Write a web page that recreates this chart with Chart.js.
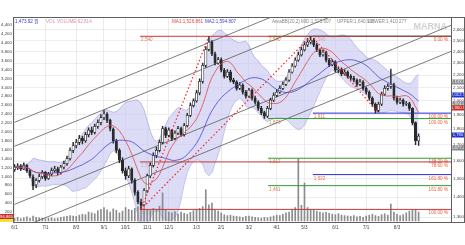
<!DOCTYPE html>
<html>
<head>
<meta charset="utf-8">
<script src="https://cdn.jsdelivr.net/npm/chart.js@4.4.1/dist/chart.umd.min.js"></script>
<style>
html, body { margin: 0; padding: 0; background: #fff; }
</style>
</head>
<body>
<canvas id="stockChart" width="465" height="245"></canvas>
<script>
// candles, one bar ~ 2 trading days
const opens = [1550,1560,1570,1555,1575,1545,1510,1465,1490,1510,
  1535,1500,1525,1545,1555,1535,1565,1585,1615,1665,
  1695,1715,1740,1725,1765,1795,1780,1820,1845,1880,
  1905,1860,1800,1725,1665,1605,1545,1515,1555,1490,
  1425,1375,1360,1435,1515,1575,1635,1665,1715,1805,
  1760,1795,1740,1775,1805,1765,1825,1895,1965,2000,
  2060,2150,2280,2420,2485,2380,2300,2330,2240,2190,
  2225,2160,2145,2095,2120,2065,2035,2080,2020,1990,
  1945,1915,1890,1945,2005,2040,2065,2095,2125,2160,
  2225,2275,2325,2370,2415,2460,2485,2505,2460,2415,
  2370,2395,2325,2285,2310,2240,2245,2210,2225,2190,
  2175,2160,2125,2145,2095,2065,2020,1975,1930,1975,
  2050,2095,2110,2125,2020,1990,2005,1975,1980,1945,
  1845,1725];
const highs = [1580,1585,1580,1590,1580,1550,1520,1500,1525,1545,
  1540,1535,1560,1570,1565,1575,1600,1630,1680,1715,
  1735,1760,1755,1780,1810,1815,1835,1865,1900,1930,
  1915,1870,1810,1735,1675,1620,1560,1570,1560,1500,
  1435,1390,1445,1525,1590,1650,1685,1730,1820,1815,
  1810,1800,1790,1820,1815,1840,1910,1985,2015,2080,
  2170,2300,2445,2540,2500,2395,2350,2345,2255,2245,
  2240,2175,2155,2140,2130,2080,2095,2090,2035,2000,
  1960,1925,1960,2020,2060,2085,2115,2145,2180,2245,
  2295,2345,2395,2440,2490,2520,2540,2520,2475,2425,
  2415,2405,2340,2330,2320,2265,2260,2245,2235,2205,
  2190,2170,2165,2155,2105,2075,2030,1985,1990,2065,
  2115,2130,2250,2135,2035,2020,2015,1995,1990,1950,
  1850,1770];
const lows = [1540,1550,1545,1550,1535,1505,1440,1450,1480,1500,
  1490,1495,1515,1535,1520,1525,1555,1575,1605,1650,
  1680,1700,1705,1715,1750,1765,1770,1805,1830,1865,
  1845,1790,1710,1650,1590,1530,1495,1505,1475,1410,
  1365,1338,1355,1425,1505,1565,1620,1655,1705,1745,
  1750,1725,1730,1765,1755,1755,1815,1885,1955,1990,
  2045,2135,2265,2405,2365,2285,2290,2225,2175,2180,
  2145,2130,2080,2085,2050,2020,2025,2005,1975,1930,
  1900,1873,1880,1935,1995,2030,2055,2085,2115,2150,
  2215,2265,2315,2360,2405,2445,2470,2445,2400,2355,
  2360,2310,2270,2275,2225,2220,2195,2200,2175,2160,
  2145,2110,2115,2080,2050,2005,1960,1911,1920,1965,
  2040,2080,2095,2005,1975,1980,1960,1965,1930,1830,
  1700,1695];
const closes = [1565,1570,1555,1575,1545,1515,1460,1490,1510,1535,
  1500,1525,1545,1555,1535,1565,1585,1615,1665,1695,
  1715,1740,1725,1765,1795,1780,1820,1845,1880,1905,
  1860,1805,1725,1665,1605,1545,1515,1555,1490,1425,
  1375,1360,1435,1515,1575,1635,1665,1715,1805,1760,
  1795,1740,1775,1805,1765,1825,1895,1965,2000,2060,
  2150,2280,2420,2485,2380,2300,2330,2240,2190,2225,
  2160,2145,2095,2120,2065,2035,2080,2020,1990,1945,
  1915,1890,1945,2005,2040,2065,2095,2125,2160,2225,
  2275,2325,2370,2415,2460,2485,2505,2460,2415,2370,
  2395,2325,2285,2310,2240,2245,2210,2225,2190,2175,
  2160,2125,2145,2095,2065,2020,1975,1930,1975,2050,
  2095,2110,2125,2020,1990,2005,1975,1980,1945,1845,
  1725,1755];
const volumes = [60,80,50,70,90,60,110,80,70,60,50,
  60,70,50,60,80,90,100,120,110,100,
  130,150,140,200,180,160,230,260,300,250,
  200,270,240,180,220,300,260,240,280,320,
  350,300,250,230,280,260,330,630,240,200,
  180,210,160,200,170,150,190,230,260,280,
  320,700,360,400,250,220,180,140,120,130,
  110,100,90,80,100,110,90,80,70,60,
  80,70,90,110,130,120,150,180,200,240,
  300,1400,350,850,300,260,240,220,200,180,
  190,170,150,140,160,130,120,110,100,120,
  90,100,80,110,130,150,120,100,140,160,
  130,380,200,150,120,140,180,220,240,260,200];

const monthTicks = [0,10,20,29,36,43,50,59,67,76,85,94,104,114,124];
const monthLabels = ['6/1','7/1','8/3','9/1','10/1','11/1','12/1','1/3','2/1','3/2','4/1','5/3','6/1','7/1','8/3'];
const priceTicks = [1300,1400,1500,1600,1700,1800,1900,2000,2100,2200,2300,2400,2500,2600];
const volumeTicks = [200,400,600,800,1000,1200,1400,1600,1800,2000,2200,2400,2600,2800,3000,3200,3400,3600,3800,4000,4200,4400];

// fibonacci tools: start bar, levels, percent texts
const fibStarts = [40.7, 82.2, 96.7];
const fibLevels = [[2540, 1595, 1338], [2540, 1873, 1617, 1461], [2540, 1911, 1522]];
const fibPct = [['0.00 %', '78.60 %', '100.00 %'], ['0.00 %', '100.00 %', '138.20 %', '161.80 %'], ['0.00 %', '100.00 %', '161.80 %']];
const fibColors = ['#c23b3b', '#2f9e2f', '#2b2bd6'];

// parallel channel lines (price at bar 0 and at right edge)
const channelStart = [1847, 1690, 1363, 1238];
const channelEnd = [3583, 3279, 2645, 2402];

// red dotted trend lines [bar, price]
const trendFrom = [[41, 1338], [41, 1338], [97, 2520]];
const trendTo = [[63, 2540], [96, 2540], [118, 1911]];

// right axis value tags
const tagValues = [2143, 2047, 1974, 1946, 1760, 1677];
const tagTexts = ['2,143.6', '2,012.5', '1,974.0', '1,960.9', '1,790', '1,677.4'];
const tagColors = ['#8a8a8a', '#2233cc', '#8a8a8a', '#d02525', '#2233cc', '#8a8a8a'];

const lastSlot = 141.5;
const FONT = '"Liberation Sans", "Noto Sans CJK KR", sans-serif';

function sma(src, n) {
  return src.map((_, i) => {
    const win = src.slice(Math.max(0, i - n + 1), i + 1);
    return win.reduce((a, b) => a + b, 0) / win.length;
  });
}
function band(src, n, k, sign) {
  const mid = sma(src, n);
  return src.map((_, i) => {
    const win = src.slice(Math.max(0, i - n + 1), i + 1);
    const v = win.reduce((a, b) => a + (b - mid[i]) ** 2, 0) / win.length;
    return mid[i] + sign * k * Math.sqrt(v);
  });
}
const pts = arr => arr.map((v, i) => ({x: i, y: v}));

const ma1 = sma(closes, 9);
const ma2 = sma(closes, 21);
const bbUpper = band(closes, 14, 2, 1);
const bbLower = band(closes, 14, 2, -1);

const datasets = [];
trendFrom.forEach((p, k) => datasets.push({
  type: 'line', order: 1, yAxisID: 'y',
  data: [{x: p[0], y: p[1]}, {x: trendTo[k][0], y: trendTo[k][1]}],
  borderColor: '#ff2020', borderWidth: 1.2, borderDash: [1.5, 2.2], pointRadius: 0
}));
datasets.push({type: 'line', order: 2, yAxisID: 'y', data: pts(ma1), borderColor: '#e04848', borderWidth: 0.8, pointRadius: 0});
datasets.push({type: 'line', order: 2, yAxisID: 'y', data: pts(ma2), borderColor: '#4646d2', borderWidth: 0.8, pointRadius: 0});
datasets.push({
  type: 'bar', order: 3, yAxisID: 'y', grouped: false,
  data: closes.map((c, i) => ({x: i, y: [opens[i], c]})),
  backgroundColor: closes.map((c, i) => c >= opens[i] ? '#ffffff' : '#2a2a2a'),
  borderColor: '#2a2a2a', borderWidth: 0.7, borderSkipped: false, barThickness: 2.4, minBarLength: 1
});
datasets.push({
  type: 'bar', order: 4, yAxisID: 'y', grouped: false,
  data: closes.map((c, i) => ({x: i, y: [lows[i], highs[i]]})),
  backgroundColor: '#2a2a2a', barThickness: 0.8
});
fibLevels.forEach((lv, f) => lv.forEach(v => datasets.push({
  type: 'line', order: 5, yAxisID: 'y',
  data: [{x: fibStarts[f], y: v}, {x: lastSlot, y: v}],
  borderColor: fibColors[f], borderWidth: 1, pointRadius: 0
})));
channelStart.forEach((v, k) => datasets.push({
  type: 'line', order: 6, yAxisID: 'y',
  data: [{x: 0, y: v}, {x: lastSlot, y: channelEnd[k]}],
  borderColor: '#5a5a5a', borderWidth: 0.8, pointRadius: 0
}));
datasets.push({
  type: 'bar', order: 7, yAxisID: 'vol', grouped: false,
  data: pts(volumes), backgroundColor: '#8c8c8c', barThickness: 1
});
datasets.push({type: 'line', order: 8, yAxisID: 'y', data: pts(bbUpper), fill: '+1',
  backgroundColor: 'rgba(196,196,242,0.6)', borderColor: '#a6a6dc', borderWidth: 0.7, pointRadius: 0});
datasets.push({type: 'line', order: 8, yAxisID: 'y', data: pts(bbLower),
  borderColor: '#a6a6dc', borderWidth: 0.7, pointRadius: 0});

function noPad(s) { s.paddingTop = 0; s.paddingBottom = 0; s.paddingLeft = 0; s.paddingRight = 0; }

const overlay = {
  id: 'overlay',
  beforeDatasetsDraw(chart) {
    const {ctx, chartArea, scales: {x, y}} = chart;
    ctx.save();
    ctx.font = 'bold 9px ' + FONT;
    ctx.fillStyle = '#d0d0d0';
    ctx.textAlign = 'right';
    ctx.textBaseline = 'top';
    ctx.fillText('MARNA', 447, 22);
    ctx.font = '4.6px ' + FONT;
    const seen = new Set();
    fibLevels.forEach((lv, f) => lv.forEach((v, k) => {
      const py = y.getPixelForValue(v);
      ctx.fillStyle = '#e07a48';
      ctx.textAlign = 'left';
      ctx.fillText(v.toLocaleString('en-US'), x.getPixelForValue(fibStarts[f]) + 1, py + 1.5);
      const key = v + fibPct[f][k];
      if (!seen.has(key)) {
        seen.add(key);
        ctx.fillStyle = '#e8603c';
        ctx.textAlign = 'right';
        ctx.fillText(fibPct[f][k], chartArea.right - 3, py + 1.5);
      }
    }));
    ctx.restore();
  },
  afterDraw(chart) {
    const {ctx, chartArea, scales: {y}} = chart;
    ctx.save();
    // top legend
    ctx.font = '4.6px ' + FONT;
    ctx.textBaseline = 'top';
    ctx.textAlign = 'left';
    [['1,473.92 원', 15, '#3a3ac8'], ['VOL', 46, '#d890b0'], ['VOLUME:62,814', 57, '#d890b0'],
     ['MA1:1,526.861', 172, '#e04848'], ['MA2:1,594.807', 205, '#4646d2'],
     ['AreaBB(20,2)', 272, '#8a8a8a'], ['MID:1,525.607', 301, '#8a8a8a'],
     ['UPPER:1,640.936', 337, '#8a8a8a'], ['LOWER:1,410.277', 368, '#8a8a8a']
    ].forEach(t => { ctx.fillStyle = t[2]; ctx.fillText(t[0], t[1], 19); });
    // right axis tags
    ctx.font = '4.2px ' + FONT;
    ctx.textAlign = 'center';
    ctx.textBaseline = 'middle';
    tagValues.forEach((v, k) => {
      const py = Math.round(y.getPixelForValue(v));
      ctx.fillStyle = tagColors[k];
      ctx.fillRect(chartArea.right + 1, py - 2.5, 12, 5);
      ctx.fillStyle = '#fff';
      ctx.fillText(tagTexts[k], chartArea.right + 7, py + 0.2);
    });
    // left volume tag
    ctx.fillStyle = '#d02525';
    ctx.fillRect(0, 214, 13, 5);
    ctx.fillStyle = '#f2e23a';
    ctx.fillRect(0, 219, 13, 3);
    ctx.fillStyle = '#fff';
    ctx.fillText('96,865', 6.5, 216.6);
    // frame
    ctx.strokeStyle = '#606060';
    ctx.lineWidth = 1;
    ctx.strokeRect(chartArea.left + 0.5, chartArea.top + 0.5, 464 - chartArea.left, chartArea.bottom - chartArea.top);
    ctx.beginPath();
    ctx.moveTo(chartArea.right + 0.5, chartArea.top);
    ctx.lineTo(chartArea.right + 0.5, chartArea.bottom);
    ctx.stroke();
    ctx.restore();
  }
};

const ctx = document.getElementById('stockChart').getContext('2d');
const stockChart = new Chart(ctx, {
  type: 'bar',
  data: {datasets: datasets},
  options: {
    responsive: false,
    animation: false,
    events: [],
    layout: {padding: {top: 17, left: 0, right: 1, bottom: 0}},
    plugins: {legend: {display: false}, tooltip: {enabled: false}},
    scales: {
      x: {
        type: 'linear', min: -0.5, max: lastSlot, offset: false,
        afterBuildTicks: s => { s.ticks = monthTicks.map(v => ({value: v})); },
        afterFit: s => { s.height = 23; noPad(s); },
        ticks: {autoSkip: false, maxRotation: 0, padding: 1, color: '#444',
          font: {size: 4.6, family: FONT}, callback: (v, i) => monthLabels[i]},
        grid: {color: '#e2e2e2', lineWidth: 0.7, tickLength: 2, offset: false},
        border: {display: false}
      },
      y: {
        type: 'logarithmic', position: 'right', min: 1277, max: 2728,
        afterBuildTicks: s => { s.ticks = priceTicks.map(v => ({value: v})); },
        afterFit: s => { s.width = 13; noPad(s); },
        ticks: {autoSkip: false, padding: 2, color: '#444', font: {size: 4.4, family: FONT},
          callback: v => v.toLocaleString('en-US')},
        grid: {color: '#e6e6e6', lineWidth: 0.7, drawTicks: false},
        border: {display: false}
      },
      vol: {
        type: 'linear', position: 'left', min: -25, max: 4580,
        afterBuildTicks: s => { s.ticks = volumeTicks.map(v => ({value: v})); },
        afterFit: s => { s.width = 13; noPad(s); },
        ticks: {autoSkip: false, padding: 1, color: '#444', font: {size: 4.4, family: FONT},
          callback: v => v.toLocaleString('en-US')},
        grid: {drawOnChartArea: false, drawTicks: false},
        border: {display: false}
      }
    }
  },
  plugins: [overlay]
});
</script>
</body>
</html>
